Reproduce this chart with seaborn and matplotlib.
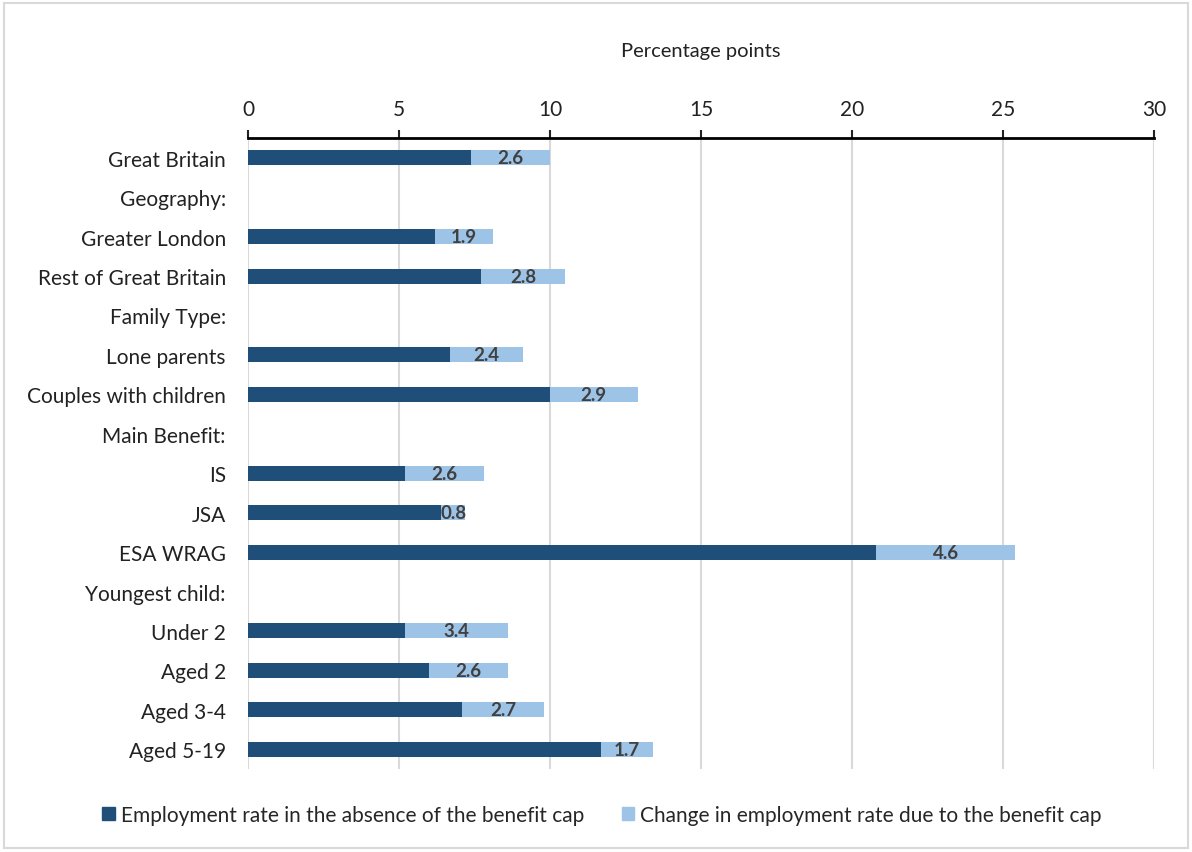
import matplotlib.pyplot as plt
import matplotlib.patches as mpatches
import numpy as np
import pandas as pd
import seaborn as sns

categories = [
    "Great Britain", "Geography:", "Greater London", "Rest of Great Britain",
    "Family Type:", "Lone parents", "Couples with children", "Main Benefit:",
    "IS", "JSA", "ESA WRAG", "Youngest child:", "Under 2", "Aged 2",
    "Aged 3-4", "Aged 5-19",
]
# header rows have no bars
base_rate = [7.4, np.nan, 6.2, 7.7, np.nan, 6.7, 10.0, np.nan,
             5.2, 6.4, 20.8, np.nan, 5.2, 6.0, 7.1, 11.7]
cap_change = [2.6, np.nan, 1.9, 2.8, np.nan, 2.4, 2.9, np.nan,
              2.6, 0.8, 4.6, np.nan, 3.4, 2.6, 2.7, 1.7]

DARK = "#1F4E79"
LIGHT = "#9DC3E6"

df = pd.DataFrame({"category": categories, "base": base_rate, "change": cap_change})
df["total"] = df["base"] + df["change"]

sns.set_theme(style="white")
plt.rcParams["font.family"] = ["Lato", "DejaVu Sans"]

fig = plt.figure(figsize=(11.92, 8.53), dpi=100)
ax = fig.add_axes([248 / 1192, 1 - 770 / 853, (1154 - 248) / 1192, (770 - 139) / 853])

sns.barplot(data=df, y="category", x="total", color=LIGHT, orient="h", linewidth=0,
            width=0.38, saturation=1, ax=ax, order=categories)
sns.barplot(data=df, y="category", x="base", color=DARK, orient="h", linewidth=0,
            width=0.38, saturation=1, ax=ax, order=categories)

for i, row in df.iterrows():
    if np.isnan(row["change"]):
        continue
    ax.text(row["base"] + row["change"] / 2, i, f"{row['change']:.1f}",
            ha="center", va="center", fontsize=13.5, fontweight="bold", color="#404040")

ax.set_xlim(0, 30)
ax.set_ylim(len(categories) - 0.5, -0.5)
ax.set_xticks(range(0, 31, 5))
ax.xaxis.tick_top()
ax.xaxis.set_label_position("top")
ax.set_xlabel("Percentage points", fontsize=14.5, labelpad=31, color="#222222")
ax.set_ylabel("")
ax.tick_params(axis="x", top=True, direction="out", length=6, width=1.5,
               labelsize=15, pad=8, colors="#222222")
ax.tick_params(axis="y", left=False, labelsize=15, pad=10, colors="#222222")
ax.grid(axis="x", color="#D9D9D9", linewidth=1.5)
ax.set_axisbelow(True)
for side in ["bottom", "left", "right"]:
    ax.spines[side].set_visible(False)
ax.spines["top"].set_color("black")
ax.spines["top"].set_linewidth(2)

handles = [mpatches.Patch(color=DARK, label="Employment rate in the absence of the benefit cap"),
           mpatches.Patch(color=LIGHT, label="Change in employment rate due to the benefit cap")]
fig.legend(handles=handles, loc="center", bbox_to_anchor=(602 / 1192, 1 - 816 / 853),
           ncol=2, frameon=False, fontsize=15, handlelength=0.6, handleheight=0.6,
           handletextpad=0.3, columnspacing=1.8)

fig.patches.append(mpatches.Rectangle((4 / 1192, 4 / 853), 1184 / 1192, 845 / 853,
                                      transform=fig.transFigure, fill=False,
                                      edgecolor="#D9D9D9", linewidth=1.5))

fig.savefig("out.png", dpi=100)
